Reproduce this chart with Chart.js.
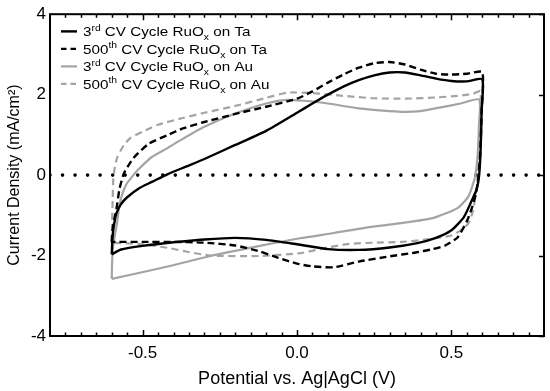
<!DOCTYPE html>
<html>
<head>
<meta charset="utf-8">
<script src="https://cdn.jsdelivr.net/npm/chart.js@4.4.1/dist/chart.umd.min.js"></script>
<style>
  html, body { margin: 0; padding: 0; background: #fff; }
</style>
</head>
<body>
<canvas id="cv-canvas" width="550" height="391"></canvas>
<script>
// 3rd cycle, RuOx on Ta (black solid)
const ta3V = [-0.6, -0.598, -0.594, -0.585, -0.57, -0.55, -0.51, -0.47, -0.42, -0.36, -0.3, -0.2, -0.1, 0.0, 0.05, 0.1, 0.15, 0.2, 0.25, 0.3, 0.35, 0.4, 0.45, 0.5, 0.55, 0.6,
  0.598, 0.595, 0.59, 0.582, 0.565, 0.54, 0.5, 0.45, 0.39, 0.3, 0.2, 0.1, 0.0, -0.1, -0.2, -0.3, -0.4, -0.5, -0.57, -0.6];
const ta3I = [-1.97, -1.6, -1.3, -0.95, -0.72, -0.55, -0.32, -0.17, 0.02, 0.21, 0.4, 0.75, 1.1, 1.55, 1.78, 2.0, 2.2, 2.36, 2.48, 2.55, 2.55, 2.48, 2.4, 2.34, 2.33, 2.38,
  1.6, 0.7, 0.0, -0.35, -0.65, -1.05, -1.37, -1.56, -1.69, -1.8, -1.86, -1.84, -1.72, -1.61, -1.56, -1.6, -1.67, -1.76, -1.85, -1.97];

// 500th cycle, RuOx on Ta (black dashed)
const ta500V = [-0.6, -0.598, -0.592, -0.585, -0.575, -0.56, -0.53, -0.48, -0.42, -0.37, -0.3, -0.2, -0.1, 0.0, 0.05, 0.1, 0.15, 0.2, 0.25, 0.3, 0.35, 0.4, 0.45, 0.5, 0.55, 0.6,
  0.598, 0.594, 0.588, 0.58, 0.565, 0.55, 0.52, 0.48, 0.44, 0.38, 0.3, 0.2, 0.12, 0.05, 0.0, -0.06, -0.12, -0.2, -0.3, -0.4, -0.5, -0.6];
const ta500I = [-1.66, -1.4, -1.1, -0.85, -0.35, 0.05, 0.42, 0.78, 0.99, 1.16, 1.32, 1.52, 1.7, 1.9, 2.08, 2.3, 2.5, 2.67, 2.78, 2.81, 2.75, 2.62, 2.52, 2.5, 2.52, 2.56,
  1.6, 0.6, 0.0, -0.45, -0.85, -1.15, -1.55, -1.75, -1.84, -1.93, -2.02, -2.15, -2.29, -2.27, -2.2, -2.06, -1.9, -1.75, -1.68, -1.66, -1.66, -1.66];

// 3rd cycle, RuOx on Au (grey solid)
const au3V = [-0.6, -0.599, -0.596, -0.59, -0.583, -0.575, -0.565, -0.552, -0.53, -0.51, -0.47, -0.42, -0.37, -0.3, -0.2, -0.1, -0.03, 0.05, 0.1, 0.2, 0.3, 0.35, 0.4, 0.47, 0.53, 0.59,
  0.589, 0.585, 0.578, 0.571, 0.56, 0.552, 0.52, 0.44, 0.33, 0.22, 0.12, 0.01, -0.12, -0.28, -0.44, -0.6];
const au3I = [-2.58, -2.2, -1.8, -1.5, -1.2, -0.75, -0.45, -0.22, 0.0, 0.17, 0.45, 0.67, 0.9, 1.2, 1.53, 1.78, 1.87, 1.83, 1.78, 1.66, 1.59, 1.57, 1.59, 1.69, 1.78, 1.88,
  1.2, 0.5, 0.0, -0.2, -0.45, -0.57, -0.82, -1.07, -1.2, -1.31, -1.44, -1.57, -1.76, -2.01, -2.31, -2.58];

// 500th cycle, RuOx on Au (grey dashed)
const au500V = [-0.6, -0.599, -0.597, -0.595, -0.59, -0.583, -0.572, -0.56, -0.54, -0.5, -0.45, -0.37, -0.3, -0.2, -0.1, -0.03, 0.05, 0.15, 0.25, 0.35, 0.45, 0.52, 0.57, 0.594,
  0.593, 0.59, 0.586, 0.58, 0.57, 0.555, 0.535, 0.5, 0.42, 0.34, 0.25, 0.17, 0.1, 0.01, -0.12, -0.28, -0.36, -0.41, -0.5, -0.6];
const au500I = [-1.68, -1.2, -0.6, -0.1, 0.2, 0.42, 0.6, 0.75, 0.92, 1.08, 1.25, 1.42, 1.55, 1.72, 1.92, 2.05, 2.04, 1.97, 1.91, 1.9, 1.93, 1.97, 2.02, 2.09,
  1.5, 0.7, 0.0, -0.4, -0.89, -1.2, -1.35, -1.5, -1.6, -1.66, -1.68, -1.71, -1.8, -1.94, -2.01, -2.0, -1.9, -1.82, -1.72, -1.68];

const zeroLineV = [-0.8, 0.8];
const zeroLineI = [0, 0];

const xTicks = [-0.5, 0.0, 0.5];
const xMinorStep = 0.05;
const yTicks = [-4, -2, 0, 2, 4];

// legend labels split in runs: plain, superscript (^), subscript (_)
const legendLabels = [
  [["3"], ["rd", "^"], [" CV Cycle RuO"], ["x", "_"], [" on Ta"]],
  [["500"], ["th", "^"], [" CV Cycle RuO"], ["x", "_"], [" on Ta"]],
  [["3"], ["rd", "^"], [" CV Cycle RuO"], ["x", "_"], [" on Au"]],
  [["500"], ["th", "^"], [" CV Cycle RuO"], ["x", "_"], [" on Au"]]
];

const FONT = "'Liberation Sans', Arial, Helvetica, sans-serif";
const GREY = '#a4a4a4';

function toPoints(xs, ys) {
  return xs.map((x, i) => ({ x: x, y: ys[i] }));
}

function curve(data, color, width, dash) {
  return {
    data: data,
    showLine: true,
    borderColor: color,
    borderWidth: width,
    borderDash: dash,
    pointRadius: 0,
    tension: 0.2,
    fill: false
  };
}

// frame, inward tick marks and the legend
const framePlugin = {
  id: 'frame',
  afterDatasetsDraw(chart) {
    const ctx = chart.ctx;
    const a = chart.chartArea;
    const xs = chart.scales.x;
    const ys = chart.scales.y;
    ctx.save();
    ctx.strokeStyle = '#000';
    ctx.lineWidth = 2;
    ctx.strokeRect(a.left, a.top, a.right - a.left, a.bottom - a.top);

    ctx.lineWidth = 1.5;
    ctx.beginPath();
    const n = Math.round((xs.max - xs.min) / xMinorStep);
    for (let i = 1; i < n; i++) {
      const v = xs.min + i * xMinorStep;
      const px = Math.round(xs.getPixelForValue(v)) + 0.5;
      const major = xTicks.some(t => Math.abs(t - v) < 1e-6);
      const len = major ? 6 : 3.5;
      ctx.moveTo(px, a.bottom);
      ctx.lineTo(px, a.bottom - len);
      ctx.moveTo(px, a.top);
      ctx.lineTo(px, a.top + len);
    }
    yTicks.forEach(v => {
      const py = Math.round(ys.getPixelForValue(v)) + 0.5;
      ctx.moveTo(a.right, py);
      ctx.lineTo(a.right - 5, py);
    });
    ctx.stroke();

    // legend
    const styles = [
      { color: '#000', width: 2.4, dash: [] },
      { color: '#000', width: 2.4, dash: [5.5, 4] },
      { color: GREY, width: 2.2, dash: [] },
      { color: GREY, width: 2.2, dash: [5.5, 4] }
    ];
    const base = 12.7;
    const small = 8.6;
    legendLabels.forEach((runs, i) => {
      const baseline = a.top + 22 + i * 17.5;
      const mid = baseline - 4.8;
      const st = styles[i];
      ctx.strokeStyle = st.color;
      ctx.lineWidth = st.width;
      ctx.setLineDash(st.dash);
      ctx.beginPath();
      ctx.moveTo(a.left + 11, mid);
      ctx.lineTo(a.left + 27, mid);
      ctx.stroke();
      ctx.setLineDash([]);

      ctx.save();
      ctx.translate(a.left + 33, baseline);
      ctx.scale(1.2, 1);
      ctx.fillStyle = '#000';
      ctx.textBaseline = 'alphabetic';
      let x = 0;
      runs.forEach(r => {
        const kind = r[1];
        ctx.font = (kind ? small : base) + 'px ' + FONT;
        const dy = kind === '^' ? -5.5 : kind === '_' ? 3.8 : 0;
        ctx.fillText(r[0], x, dy);
        x += ctx.measureText(r[0]).width;
      });
      ctx.restore();
    });
    ctx.restore();
  }
};

main();

function main() {
  const ctxCV = document.getElementById('cv-canvas');
  return new Chart(ctxCV, {
    type: 'scatter',
    data: {
      datasets: [
        curve(toPoints(ta3V, ta3I), '#000', 2.4, []),
        curve(toPoints(ta500V, ta500I), '#000', 2.4, [7, 4]),
        curve(toPoints(au3V, au3I), GREY, 2.2, []),
        curve(toPoints(au500V, au500I), GREY, 2.2, [7, 4.5]),
        {
          data: toPoints(zeroLineV, zeroLineI),
          showLine: true,
          borderColor: '#000',
          borderWidth: 3.6,
          borderDash: [0, 12.53],
          borderCapStyle: 'round',
          pointRadius: 0
        }
      ]
    },
    options: {
      responsive: false,
      animation: false,
      events: [],
      layout: { padding: { left: 0, right: 6, top: 13, bottom: 0 } },
      plugins: {
        legend: { display: false },
        tooltip: { enabled: false }
      },
      scales: {
        x: {
          type: 'linear',
          min: -0.8,
          max: 0.8,
          afterBuildTicks: (s) => { s.ticks = xTicks.map(v => ({ value: v })); },
          afterFit: (s) => { s.height = 55; },
          grid: { display: false, drawTicks: false },
          border: { display: false },
          ticks: {
            color: '#000',
            font: { family: FONT, size: 17 },
            padding: 7,
            maxRotation: 0,
            autoSkip: false,
            callback: (v) => Number(v).toFixed(1)
          },
          title: {
            display: true,
            text: 'Potential vs. Ag|AgCl (V)',
            color: '#000',
            font: { family: FONT, size: 18 },
            padding: { top: 0, bottom: 1 }
          }
        },
        y: {
          type: 'linear',
          min: -4,
          max: 4,
          afterBuildTicks: (s) => { s.ticks = yTicks.map(v => ({ value: v })); },
          afterFit: (s) => { s.width = 50; },
          grid: { display: false, drawTicks: false },
          border: { display: false },
          ticks: {
            color: '#000',
            font: { family: FONT, size: 17 },
            padding: 4,
            autoSkip: false,
            callback: (v) => String(v)
          },
          title: {
            display: true,
            text: 'Current Density (mA/cm\u00B2)',
            color: '#000',
            font: { family: FONT, size: 16 },
            padding: { top: 5, bottom: 0 }
          }
        }
      }
    },
    plugins: [framePlugin]
  });
}
</script>
</body>
</html>
